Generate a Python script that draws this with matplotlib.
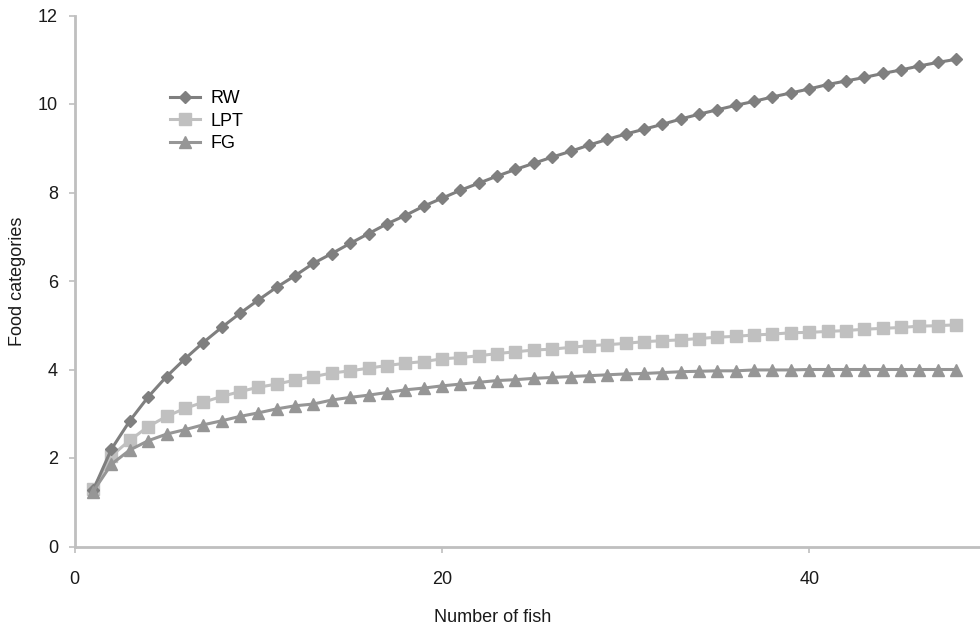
import matplotlib
matplotlib.use("Agg")
import matplotlib.pyplot as plt

plt.rcParams['font.family'] = ['Liberation Sans', 'DejaVu Sans']

fish = list(range(1, 49))
rw = [1.27, 2.20, 2.84, 3.38, 3.84, 4.24, 4.61, 4.95, 5.27, 5.57,
      5.86, 6.12, 6.40, 6.62, 6.85, 7.07, 7.29, 7.48, 7.69, 7.87,
      8.05, 8.21, 8.37, 8.52, 8.66, 8.80, 8.93, 9.07, 9.20, 9.32,
      9.43, 9.54, 9.66, 9.77, 9.87, 9.97, 10.06, 10.16, 10.25, 10.34,
      10.44, 10.52, 10.60, 10.69, 10.77, 10.86, 10.94, 11.01]
lpt = [1.30, 2.05, 2.40, 2.71, 2.94, 3.12, 3.26, 3.39, 3.50, 3.60,
       3.67, 3.76, 3.84, 3.92, 3.97, 4.03, 4.09, 4.14, 4.18, 4.24,
       4.27, 4.31, 4.36, 4.40, 4.44, 4.46, 4.50, 4.54, 4.56, 4.59,
       4.63, 4.65, 4.67, 4.70, 4.73, 4.75, 4.78, 4.80, 4.83, 4.84,
       4.86, 4.88, 4.91, 4.93, 4.95, 4.98, 4.99, 5.01]
fg = [1.24, 1.86, 2.18, 2.39, 2.54, 2.64, 2.75, 2.84, 2.94, 3.02,
      3.11, 3.18, 3.22, 3.31, 3.37, 3.42, 3.48, 3.54, 3.58, 3.63,
      3.67, 3.71, 3.75, 3.77, 3.80, 3.82, 3.84, 3.86, 3.88, 3.90,
      3.91, 3.93, 3.95, 3.96, 3.97, 3.97, 3.99, 3.99, 3.99, 4.00,
      4.00, 4.00, 4.00, 4.00, 4.00, 4.00, 4.00, 4.00]

xticks = [0, 20, 40]
yticks = [0, 2, 4, 6, 8, 10, 12]

fig = plt.figure(figsize=(9.8, 6.3), dpi=100)
ax = fig.add_axes([74.7/980, 1 - 546.5/630, 1 - 74.7/980, (546.5 - 15.5)/630])

ax.plot(fish, rw, color='#7f7f7f', lw=2.2, marker='D', ms=6, label='RW', zorder=3)
ax.plot(fish, lpt, color='#c0c0c0', lw=2.2, marker='s', ms=8, label='LPT', zorder=2)
ax.plot(fish, fg, color='#969696', lw=2.2, marker='^', ms=8, label='FG', zorder=4)

ax.set_xlim(0, 49.3)
ax.set_ylim(0, 12)
ax.set_xticks(xticks)
ax.set_yticks(yticks)

for s in ['top', 'right']:
    ax.spines[s].set_visible(False)
for s in ['left', 'bottom']:
    ax.spines[s].set_color('#bfbfbf')
    ax.spines[s].set_linewidth(2)
ax.tick_params(axis='both', direction='out', length=4, width=1.2,
               color='#bfbfbf', labelsize=13, labelcolor='#1a1a1a')
ax.tick_params(axis='x', pad=14)
ax.tick_params(axis='y', pad=8)

ax.set_xlabel('Number of fish', fontsize=13, color='#1a1a1a')
ax.set_ylabel('Food categories', fontsize=13, color='#1a1a1a')
ax.xaxis.set_label_coords((493 - 74.7) / 905.3, (546.5 - 617) / 531)
ax.yaxis.set_label_coords((18 - 74.7) / 905.3, (546.5 - 281) / 531)
ax.xaxis.label.set_va('center')
ax.yaxis.label.set_va('center')

ax.legend(loc='upper left', bbox_to_anchor=(0.0876, 0.89), frameon=False,
          fontsize=13, handlelength=1.67, handletextpad=0.55, labelspacing=0.3)

fig.savefig('out.png', dpi=100)
